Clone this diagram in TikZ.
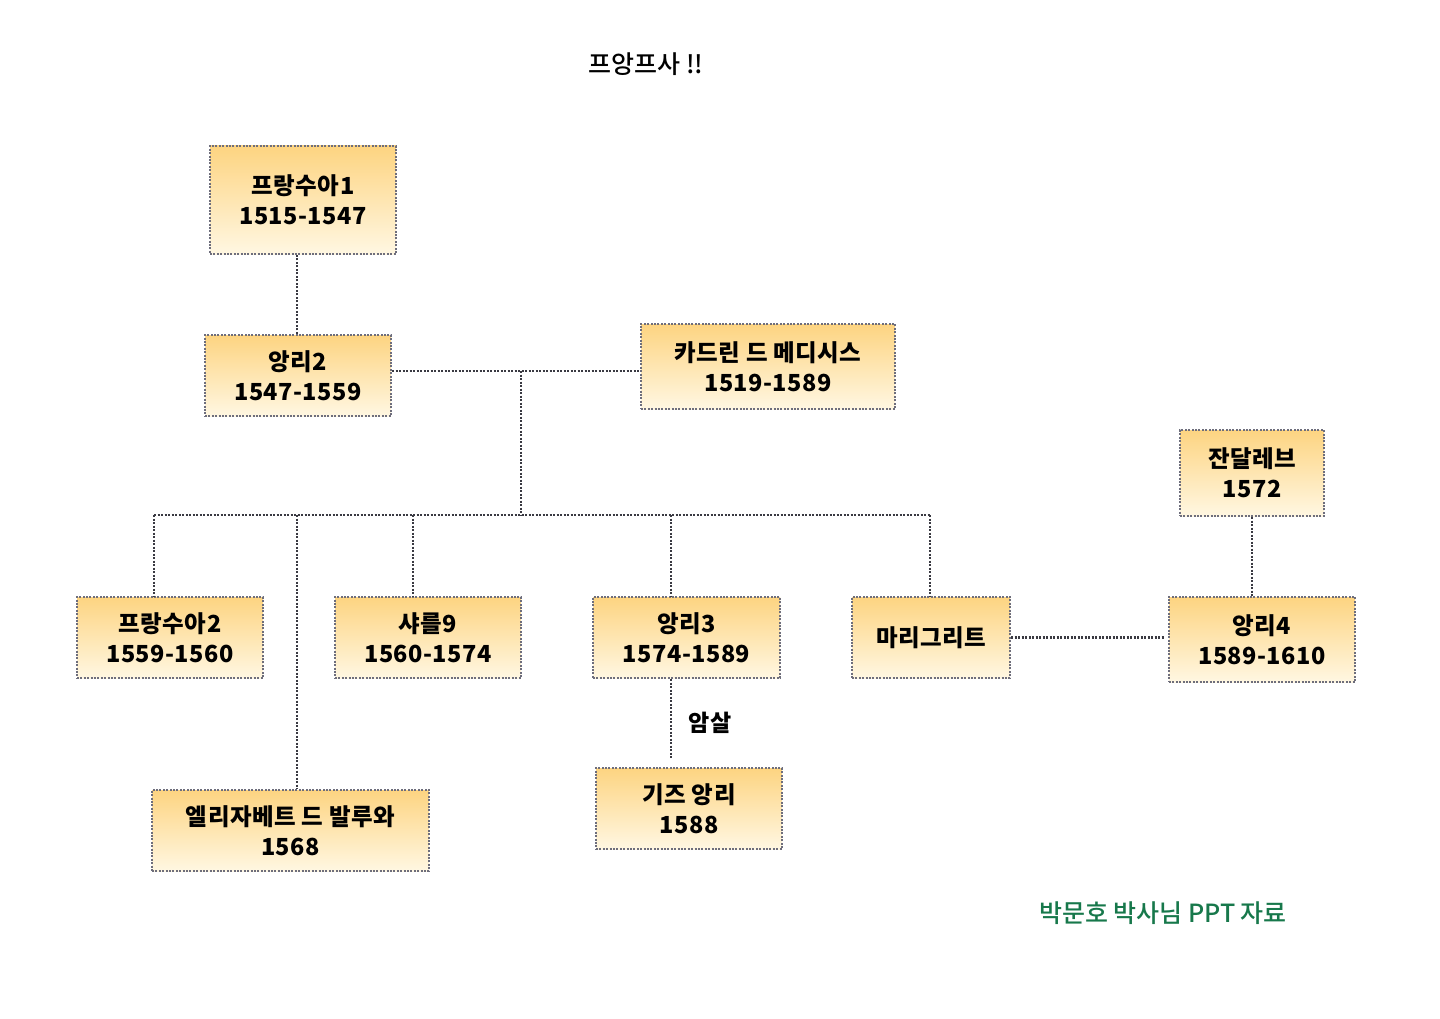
\documentclass[tikz,border=0pt]{standalone}
\usepackage{fontspec}
\setmainfont{Noto Sans CJK KR}
\newfontfamily\boxfont[LetterSpace=2]{Noto Sans CJK KR}
\newfontfamily\medfont{Noto Sans CJK KR Medium}
\definecolor{boxtop}{HTML}{FDD481}
\definecolor{boxbot}{HTML}{FFF7E2}
\definecolor{boxline}{HTML}{6E6E7C}
\definecolor{conline}{HTML}{3A3A42}
\definecolor{footgreen}{HTML}{17784B}
\begin{document}
\begin{tikzpicture}[x=1pt,y=-1pt,
  person/.style={rectangle, top color=boxtop, bottom color=boxbot,
    draw=boxline, line width=2.2pt, dash pattern=on 2pt off 1.4pt,
    align=center, inner sep=0pt, text=black,
    font=\boxfont\fontsize{23.5}{30}\selectfont\bfseries},
  link/.style={draw=conline, line width=2.4pt, dash pattern=on 2pt off 1.5pt},
  note/.style={font=\boxfont\fontsize{23}{28}\selectfont\bfseries, inner sep=0pt}
]
\useasboundingbox (0,0) rectangle (1440,1019);
\fill[white] (0,0) rectangle (1440,1019);

% title
\node[font=\medfont\fontsize{25}{30}\selectfont, inner sep=0pt] (title) at (646,64) {프앙프사 !!};

% people
\node[person, minimum width=186pt, minimum height=108pt] (f1) at (303,200) {프랑수아1\\1515-1547};
\node[person, minimum width=186pt, minimum height=81pt] (a2) at (298,375.5) {앙리2\\1547-1559};
\node[person, minimum width=254pt, minimum height=85pt] (cat) at (768,366.5) {카드린 드 메디시스\\1519-1589};
\node[person, minimum width=144pt, minimum height=86pt] (jd) at (1252,473) {잔달레브\\1572};
\node[person, minimum width=186pt, minimum height=81pt] (f2) at (170,637.5) {프랑수아2\\1559-1560};
\node[person, minimum width=186pt, minimum height=81pt] (c9) at (428,637.5) {샤를9\\1560-1574};
\node[person, minimum width=187pt, minimum height=81pt] (a3) at (686.5,637.5) {앙리3\\1574-1589};
\node[person, minimum width=158pt, minimum height=81pt] (mg) at (931,637.5) {마리그리트};
\node[person, minimum width=186pt, minimum height=85pt] (a4) at (1262,639.5) {앙리4\\1589-1610};
\node[person, minimum width=186pt, minimum height=81pt] (gz) at (689,808.5) {기즈 앙리\\1588};
\node[person, minimum width=277pt, minimum height=81pt] (el) at (290.5,830.5) {엘리자베트 드 발루와\\1568};

% junctions
\coordinate (J) at (521,371);
\coordinate (B) at (521,515);
\coordinate (b1) at (154,515);
\coordinate (b2) at (297,515);
\coordinate (b3) at (413,515);
\coordinate (b4) at (671,515);
\coordinate (b5) at (930,515);
\coordinate (k) at (671,758);
\coordinate (t) at (297,254);
\coordinate (m) at (1165,637.5);

% connectors
\draw[link] (a2.north -| t) -- (t);
\draw[link] (a2.east |- J) -- (cat.west |- J);
\draw[link] (J) -- (B);
\draw[link] (b1) -- (b5);
\draw[link] (b1) -- (b1 |- f2.north);
\draw[link] (b2) -- (b2 |- el.north);
\draw[link] (b3) -- (b3 |- c9.north);
\draw[link] (b4) -- (b4 |- a3.north);
\draw[link] (b5) -- (b5 |- mg.north);
\draw[link] (a3.south -| k) -- (k);
\draw[link] (mg.east) -- (m);
\draw[link] (jd.south) -- (jd.south |- a4.north);

% labels
\node[note] (kill) at (710,723) {암살};
\node[font=\medfont\fontsize{25}{30}\selectfont, text=footgreen, inner sep=0pt] (foot) at (1163,913) {박문호 박사님 PPT 자료};
\end{tikzpicture}
\end{document}
